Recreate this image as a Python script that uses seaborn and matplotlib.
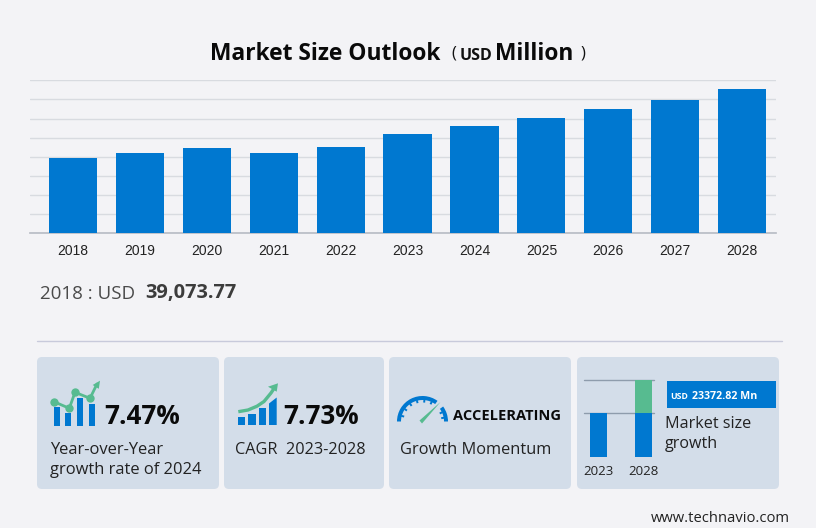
import matplotlib
matplotlib.use("Agg")
import matplotlib.pyplot as plt
import seaborn as sns
import pandas as pd
import numpy as np
from matplotlib.patches import FancyBboxPatch, Wedge, Polygon, Rectangle

# ---- data ----
years = ["2018", "2019", "2020", "2021", "2022", "2023", "2024", "2025", "2026", "2027", "2028"]
market_size = [39073.77, 41660, 44250, 41800, 44760, 51490, 55340, 59510, 64170, 69090, 74860]
mini_years = ["2023", "2028"]
mini_base = [44, 44]
mini_growth = [0, 32.5]
yoy_bars = [19, 13, 28, 22]
cagr_bars = [8.3, 10.7, 16.7]

BG = "#F3F3F6"
CARD = "#D3DDE9"
BLUE = "#0078D0"
GREEN = "#57BB90"
GRID = "#D8DBE0"
W, H = 816, 528

sns.set_theme(style="white", rc={"figure.facecolor": BG, "axes.facecolor": "none"})
plt.rcParams["font.family"] = ["Open Sans", "DejaVu Sans"]

fig = plt.figure(figsize=(W / 100, H / 100), dpi=100, facecolor=BG)


def px_axes(x0, y0, x1, y1, **kw):
    return fig.add_axes([x0 / W, 1 - y1 / H, (x1 - x0) / W, (y1 - y0) / H], **kw)


# overlay for cards, text and icons (pixel coordinates)
ov = px_axes(0, 0, W, H)
ov.set_xlim(0, W)
ov.set_ylim(H, 0)
ov.axis("off")

# main chart
ax = px_axes(29.6, 80.3, 775.6, 233.3)
df = pd.DataFrame({"year": years, "size": market_size})
sns.barplot(data=df, x="year", y="size", color=BLUE, saturation=1, width=0.72,
            edgecolor="none", linewidth=0, ax=ax, zorder=3)
ax.set_xlim(-0.649, 10.5)
ymax = 79177
ax.set_ylim(0, ymax)
ax.set_yticks([ymax * i / 8 for i in range(9)])
ax.set_yticklabels([])
ax.yaxis.grid(True, color=GRID, lw=1)
ax.set_axisbelow(True)
ax.set_xlabel("")
ax.set_ylabel("")
sns.despine(ax=ax, left=True, top=True, right=True)
ax.spines["bottom"].set_color("#B9BDC6")
ax.tick_params(axis="x", length=0, pad=7.5, labelsize=10, labelcolor="#222222")
ax.tick_params(axis="y", length=0)
for t in ax.get_xticklabels():
    t.set_fontfamily("Liberation Sans")

# title
ov.text(325.5, 53.5, "Market Size Outlook", ha="center", va="center", fontsize=16.4, fontweight="bold", color="#0A0A0A")
ov.text(454, 54, "(", ha="center", va="center", fontsize=12, color="#111111")
ov.text(476, 55.5, "USD", ha="center", va="center", fontsize=11.5, fontweight="bold", color="#111111")
ov.text(534.5, 53.5, "Million", ha="center", va="center", fontsize=16.4, fontweight="bold", color="#0A0A0A")
ov.text(583, 54, ")", ha="center", va="center", fontsize=12, color="#111111")

# headline value
ov.text(40, 294, "2018 : USD", ha="left", va="center", fontsize=13.5, color="#4A4A4A")
ov.text(145, 293, "39,073.77", ha="left", va="center", fontsize=14.4, fontweight="bold", color="#3C3C3C")

# separator
ov.plot([37, 782], [340.5, 340.5], color="#C8CADB", lw=1)

# cards
for x0, x1 in [(37, 219), (224, 384), (389, 571), (577, 779)]:
    ov.add_patch(FancyBboxPatch((x0 + 5, 357 + 5), x1 - x0 - 10, 132 - 10,
                                boxstyle="round,pad=5,rounding_size=5", fc=CARD, ec="none"))

# card 1 icon
for x, h in zip([54, 65, 77, 88.5], yoy_bars):
    ov.add_patch(Rectangle((x, 426 - h), 6.4, h, fc=BLUE, ec="none"))
line_x = [54, 69.3, 75, 90]
line_y = [401.7, 408.3, 392.3, 398.3]
ov.plot(line_x + [97], line_y + [384], color=GREEN, lw=2, solid_capstyle="round", zorder=4)
ov.scatter(line_x, line_y, s=36, color=GREEN, zorder=4, lw=0)
ov.add_patch(Polygon([[92.7, 385], [100, 380.7], [98.8, 388.8]], fc=GREEN, ec="none", zorder=4))
ov.text(104, 416, "7.47%", ha="left", va="center", fontsize=18.7, fontweight="bold", color="#0A0A0A")
ov.text(50, 450, "Year-over-Year", ha="left", va="center", fontsize=11.9, color="#222222")
ov.text(50, 470, "growth rate of 2024", ha="left", va="center", fontsize=11.9, color="#222222")

# card 2 icon
for x, h in zip([238, 248.3, 259], cagr_bars):
    ov.add_patch(Rectangle((x, 425 - h), 7.2, h, fc=BLUE, ec="none"))
ov.add_patch(Polygon([[269, 425], [276.7, 425], [276.7, 397.5], [269, 403.5]], fc=BLUE, ec="none"))
ov.plot([238.3, 248, 257, 264, 271, 274], [411.7, 410, 406.2, 401.5, 393, 388.5],
        color=GREEN, lw=2.4, solid_capstyle="butt")
ov.add_patch(Polygon([[268, 386.7], [278, 383.3], [276.7, 391.7]], fc=GREEN, ec="none"))
ov.text(283, 416, "7.73%", ha="left", va="center", fontsize=18.7, fontweight="bold", color="#0A0A0A")
ov.text(235, 450, "CAGR  2023-2028", ha="left", va="center", fontsize=11.7, color="#222222")

# card 3 gauge
cx, cy = 422.5, 421.5
ov.add_patch(Wedge((cx, cy), 25.5, 180, 306, width=4, fc=BLUE, ec="none"))
ov.add_patch(Wedge((cx, cy), 25.5, 324, 360, width=4, fc=BLUE, ec="none"))
for a in np.radians([195, 215, 235, 255, 275, 295, 335, 350]):
    ov.plot([cx + 22 * np.cos(a), cx + 19 * np.cos(a)], [cy + 22 * np.sin(a), cy + 19 * np.sin(a)],
            color=BLUE, lw=1.4, solid_capstyle="butt")
ov.add_patch(Polygon([[419.5, 420.5], [422, 423.5], [440.5, 402]], fc=GREEN, ec="none"))
ov.text(453, 416, "ACCELERATING", ha="left", va="center", fontsize=10.5, fontweight="bold", color="#0A0A0A")
ov.text(400, 450, "Growth Momentum", ha="left", va="center", fontsize=11.8, color="#222222")

# card 4 mini chart
mini = px_axes(583.5, 380, 653.5, 456.5)
sns.barplot(x=mini_years, y=mini_base, color=BLUE, saturation=1, width=0.378,
            edgecolor="none", linewidth=0, ax=mini, zorder=3)
mini.bar(mini_years, mini_growth, bottom=mini_base, color=GREEN, width=0.378, edgecolor="none", linewidth=0, zorder=3)
mini.set_xlim(-0.333, 1.222)
mini.set_ylim(0, mini_base[1] + mini_growth[1])
mini.set_yticks([mini_base[0], mini_base[1] + mini_growth[1]])
mini.set_yticklabels([])
mini.yaxis.grid(True, color="#8E9CAC", lw=1, zorder=5)
for g in mini.get_ygridlines():
    g.set_clip_on(False)
mini.set_axisbelow(False)
sns.despine(ax=mini, left=True, bottom=True, top=True, right=True)
mini.tick_params(axis="both", length=0)
mini.tick_params(axis="x", pad=6, labelsize=9.5, labelcolor="#222222")
mini.set_xlabel("")
mini.set_ylabel("")

ov.add_patch(Rectangle((667, 381), 109, 27, fc=BLUE, ec="none"))
ov.text(670, 396.5, "USD", ha="left", va="center", fontsize=6.3, fontweight="bold", color="white")
ov.text(692, 396.5, "23372.82 Mn", ha="left", va="center", fontsize=7.7, fontweight="bold", color="white")
ov.text(665, 424.5, "Market size", ha="left", va="center", fontsize=11.6, color="#222222")
ov.text(665, 444.5, "growth", ha="left", va="center", fontsize=11.6, color="#222222")

# footer
ov.text(790, 518, "www.technavio.com", ha="right", va="center", fontsize=10.6, color="#222222")

fig.savefig("out.png", dpi=100, facecolor=BG)
